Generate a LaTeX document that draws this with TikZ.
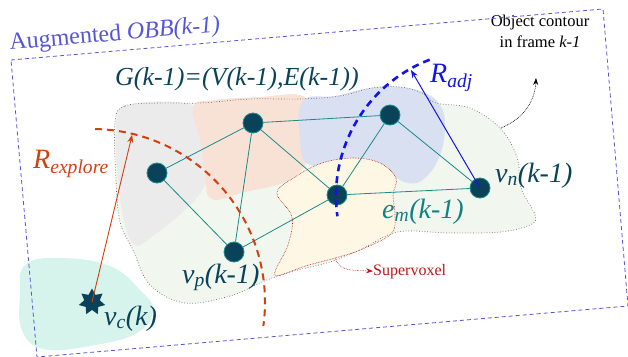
\documentclass[tikz,border=0pt]{standalone}
\usepackage{fontspec}
\setmainfont{LiberationSerif}[Extension=.ttf,UprightFont=*-Regular,ItalicFont=*-Italic,BoldFont=*-Bold,BoldItalicFont=*-BoldItalic]
\newfontfamily\tms{LiberationSerif}[Extension=.ttf,UprightFont=*-Regular,ItalicFont=*-Italic,BoldFont=*-Bold,BoldItalicFont=*-BoldItalic]
\usetikzlibrary{arrows.meta,shapes.geometric,calc}
\definecolor{ndark}{RGB}{10,66,90}
\definecolor{eteal}{RGB}{26,138,138}
\definecolor{lteal}{RGB}{22,128,128}
\definecolor{rexp}{RGB}{208,64,16}
\definecolor{radj}{RGB}{20,20,230}
\definecolor{obb}{RGB}{85,85,215}
\definecolor{fgreen}{RGB}{241,247,238}
\definecolor{fgray}{RGB}{235,235,235}
\definecolor{fpeach}{RGB}{248,226,214}
\definecolor{fblue}{RGB}{216,224,242}
\definecolor{fyellow}{RGB}{253,247,228}
\definecolor{fteal}{RGB}{214,243,236}
\definecolor{svred}{RGB}{190,20,20}
\begin{document}
\begin{tikzpicture}[x=1pt,y=-1pt,
  gnode/.style={circle,fill=ndark,draw=eteal,line width=0.8pt,minimum size=20pt,inner sep=0pt},
  gedge/.style={draw=eteal,line width=0.8pt},
  lbl/.style={inner sep=0pt,font=\tms\fontsize{28}{30}\selectfont\itshape}]
\useasboundingbox (0,0) rectangle (628,356);
% teal blob around v_c
\fill[fteal] plot[smooth cycle,tension=0.7] coordinates {(25,265) (60,258) (110,266) (140,290) (153,310) (137,333) (90,346) (43,349) (22,330) (20,295)};
% object contour
\fill[fgreen] plot[smooth cycle,tension=0.6] coordinates {(115,122) (125,106) (160,103) (200,103) (250,99) (300,99) (340,96) (372,88) (400,87) (422,93) (436,103) (470,108) (500,128) (517,157) (521,188) (535,215) (530,225) (500,232) (450,233) (398,232) (360,250) (330,262) (290,272) (262,282) (230,296) (185,303) (150,285) (133,250) (120,222) (116,180)};
% gray
\fill[fgray] plot[smooth cycle,tension=0.7] coordinates {(117,118) (133,104) (175,102) (195,108) (203,130) (210,160) (205,185) (185,210) (150,238) (135,245) (125,225) (118,180)};
% peach
\fill[fpeach] plot[smooth cycle,tension=0.7] coordinates {(193,107) (215,100) (260,97) (300,95) (308,110) (312,140) (305,165) (285,182) (245,192) (212,199) (205,175) (200,140)};
% blue
\fill[fblue] plot[smooth cycle,tension=0.7] coordinates {(303,101) (335,96) (370,88) (400,87) (425,93) (440,105) (445,125) (440,155) (425,178) (408,183) (385,172) (350,160) (310,165) (300,140)};
% supervoxel (yellow)
\filldraw[fill=fyellow,draw=svred,densely dotted,line width=0.6pt] plot[smooth cycle,tension=0.6] coordinates {(277,193) (295,177) (322,163) (353,158) (380,163) (396,178) (393,195) (395,215) (391,234) (360,250) (335,258) (305,266) (275,275) (288,245) (292,217)};
% object contour outline
\draw[gray!80!black,dotted,line width=0.7pt] plot[smooth cycle,tension=0.6] coordinates {(115,122) (125,106) (160,103) (200,103) (250,99) (300,99) (340,96) (372,88) (400,87) (422,93) (436,103) (470,108) (500,128) (517,157) (521,188) (535,215) (530,225) (500,232) (450,233) (398,232) (360,250) (330,262) (290,272) (262,282) (230,296) (185,303) (150,285) (133,250) (120,222) (116,180)};
% nodes
\node[gnode] (n1) at (253,123) {};
\node[gnode] (n2) at (157,173) {};
\node[gnode] (n3) at (390,115) {};
\node[gnode] (n4) at (337,195) {};
\node[gnode] (vp) at (234,252) {};
\node[gnode] (vn) at (480,188) {};
\node[star,star points=7,star point ratio=1.7,fill=ndark,minimum size=27pt,inner sep=0pt] (vc) at (92,302) {};
% edges
\path[gedge] (n2) -- (n1) (n1) -- (n3) (n1) -- (vp) (n1) -- (n4) (n2) -- (vp) (vp) -- (n4) (n4) -- (n3) (n3) -- (vn) (n4) -- (vn);
% R_explore arc and arrow
\draw[rexp,line width=2pt,dash pattern=on 7pt off 5pt] (vc.center) ++(-89:173) arc[start angle=-89,end angle=8,radius=173];
\coordinate (rexptip) at ($(vc.center)+(-76.5:172)$);
\draw[rexp,line width=0.9pt,-{Stealth[length=8pt,width=6pt]}] (vc.center) -- (rexptip);
% R_adj arc and arrow
\coordinate (adjc) at (482,196);
\draw[radj,line width=2.6pt,dash pattern=on 7pt off 5pt] (adjc) ++(-111:146) arc[start angle=-111,end angle=-188,radius=146];
\coordinate (radjtip) at (411,70);
\draw[radj,line width=1pt,-{Stealth[length=8pt,width=6pt]}] (vn.center) -- (radjtip);
% labels
\node[lbl,text=ndark,anchor=base west,font=\tms\fontsize{26}{28}\selectfont\itshape] (gl) at (115,85) {G(k-1)=(V(k-1),E(k-1))};
\node[lbl,text=rexp,anchor=base west] (rel) at (33,168) {R\textsubscript{explore}};
\node[lbl,text=radj,anchor=base west] (ral) at (430,82) {R\textsubscript{adj}};
\node[lbl,text=ndark,anchor=base west] (vnl) at (495,182) {v\textsubscript{n}(k-1)};
\node[lbl,text=lteal,anchor=base west] (eml) at (382,218) {e\textsubscript{m}(k-1)};
\node[lbl,text=ndark,anchor=base west] (vpl) at (182,283) {v\textsubscript{p}(k-1)};
\node[lbl,text=ndark,anchor=base west] (vcl) at (104,325) {v\textsubscript{c}(k)};
\node[inner sep=0pt,align=center,font=\tms\fontsize{16.5}{21}\selectfont,anchor=base] (ocl) at (540,47) {Object contour\\in frame \textit{k-1}};
\coordinate (ocs) at (501,128);
\coordinate (oct) at (536,78);
\draw[densely dotted,line width=0.7pt,-{Stealth[length=7pt,width=5pt]}] (ocs) .. controls (525,118) and (535,100) .. (oct);
\node[inner sep=0pt,text=svred,font=\tms\fontsize{16}{18}\selectfont,anchor=base west] (svl) at (373,275) {Supervoxel};
\coordinate (svs) at (335,258);
\draw[svred,densely dotted,line width=0.6pt,-{Stealth[length=7pt,width=5pt]}] (svs) .. controls (340,272) and (352,270) .. (svl.west);
% augmented OBB
\node[inner sep=0pt,text=obb,font=\tms\fontsize{24}{26}\selectfont,anchor=base west,rotate=5] (obbl) at (10,50) {Augmented \textit{OBB(k-1)}};
\coordinate (r1) at (11,60);
\coordinate (r2) at (603,9);
\coordinate (r3) at (628,306);
\coordinate (r4) at (37,357);
\draw[obb,line width=0.8pt,dash pattern=on 4pt off 3pt] (r1) -- (r2) -- (r3) -- (r4) -- cycle;
\end{tikzpicture}
\end{document}
